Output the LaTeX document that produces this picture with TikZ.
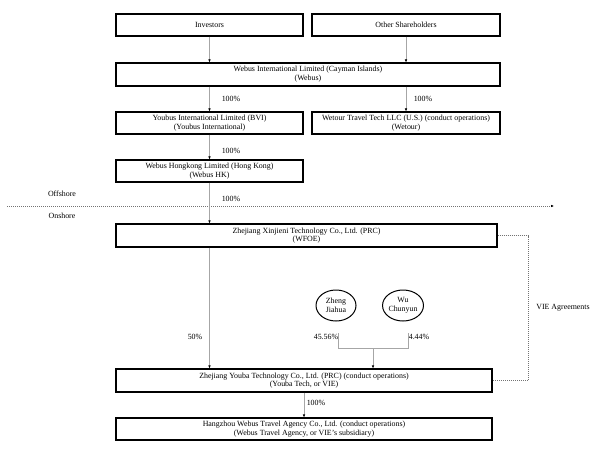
\documentclass[tikz,border=0pt]{standalone}
\usepackage{fontspec}
\setmainfont{Liberation Serif}
\usetikzlibrary{arrows.meta,shapes.geometric}
\begin{document}
\begin{tikzpicture}[x=1pt,y=-1pt,
  box/.style={draw=black,line width=1.1pt,rectangle,inner sep=0pt,align=center,font=\fontsize{7.9}{8.8}\selectfont,minimum height=22pt},
  own/.style={ellipse,draw=black,line width=1pt,minimum width=40pt,minimum height=31pt,inner sep=0pt,align=center,font=\fontsize{7.9}{8.8}\selectfont},
  conn/.style={draw=black!35,line width=0.7pt,-{Latex[length=3pt,width=2.6pt,color=black]}},
  plain/.style={draw=black!35,line width=0.7pt},
  dotline/.style={draw=black!55,line width=0.6pt,dash pattern=on 0.7pt off 1.3pt},
  lbl/.style={font=\fontsize{7.9}{8.8}\selectfont,inner sep=0pt}]
\useasboundingbox (0,0) rectangle (599,449);
\node[box,minimum width=187pt] (inv) at (209.5,25) {Investors};
\node[box,minimum width=188pt] (oth) at (406,25) {Other Shareholders};
\node[box,minimum width=384pt,minimum height=23pt] (web) at (308,74.5) {Webus International Limited (Cayman Islands)\\(Webus)};
\node[box,minimum width=187pt] (you) at (209.5,123) {Youbus International Limited (BVI)\\(Youbus International)};
\node[box,minimum width=188pt] (wet) at (406,123) {Wetour Travel Tech LLC (U.S.) (conduct operations)\\(Wetour)};
\node[box,minimum width=187pt] (hk) at (209.5,171) {Webus Hongkong Limited (Hong Kong)\\(Webus HK)};
\node[box,minimum width=381pt,minimum height=23pt] (wfoe) at (306.5,235.5) {Zhejiang Xinjieni Technology Co., Ltd. (PRC)\\(WFOE)};
\node[box,minimum width=376pt,minimum height=23pt] (youba) at (304,380.5) {Zhejiang Youba Technology Co., Ltd. (PRC) (conduct operations)\\(Youba Tech, or VIE)};
\node[box,minimum width=376pt] (hz) at (304,429) {Hangzhou Webus Travel Agency Co., Ltd. (conduct operations)\\(Webus Travel Agency, or VIE's subsidiary)};
\node[own] (zheng) at (336,305.5) {Zheng\\Jiahua};
\node[own] (wu) at (403,305.5) {Wu\\Chunyun};

\coordinate (offL) at (7,206);
\coordinate (offR) at (554,206);
\coordinate (zb) at (338,333);
\coordinate (wb) at (408,333);
\coordinate (mid) at (373,348);
\coordinate (vie) at (528,235.5);

% offshore line
\draw[dotline,-{Latex[length=3pt,width=2.6pt,color=black]}] (offL) -- (offR);
\node[lbl] (offs) at (62,194) {Offshore};
\node[lbl] (ons) at (62,216) {Onshore};

% connectors
\draw[conn] (inv.south) -- (inv.south |- web.north);
\draw[conn] (oth.south) -- (oth.south |- web.north);
\draw[conn] (inv.south |- web.south) -- (you.north);
\draw[conn] (oth.south |- web.south) -- (wet.north);
\draw[conn] (you.south) -- (hk.north);
\draw[conn] (hk.south) -- (hk.south |- wfoe.north);
\draw[conn] (hk.south |- wfoe.south) -- (hk.south |- youba.north);
\draw[conn] (youba.south -| hz.north) -- (hz.north);
\draw[plain] (zb) -- (zb |- mid) -- (wb |- mid) -- (wb);
\draw[conn] (mid) -- (mid |- youba.north);
\draw[dotline] (wfoe.east) -- (vie) -- (vie |- youba.east) -- (youba.east);

% labels
\node[lbl] (p1) at (231,98.5) {100\%};
\node[lbl] (p2) at (423,98.5) {100\%};
\node[lbl] (p3) at (231,151) {100\%};
\node[lbl] (p4) at (231,198.5) {100\%};
\node[lbl] (p5) at (195,337) {50\%};
\node[lbl] (p6) at (326,337) {45.56\%};
\node[lbl] (p7) at (419,337) {4.44\%};
\node[lbl] (p8) at (316,403) {100\%};
\node[lbl] (via) at (563,308) {VIE Agreements};
\end{tikzpicture}
\end{document}
